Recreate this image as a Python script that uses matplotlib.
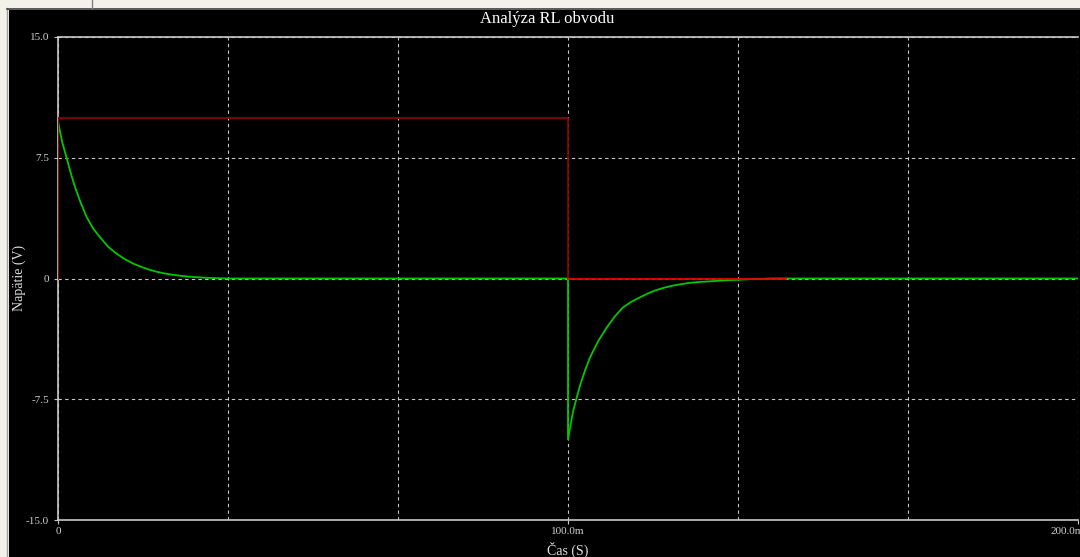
import matplotlib.pyplot as plt
from matplotlib.patches import Rectangle
from matplotlib.lines import Line2D
from matplotlib.transforms import ScaledTranslation

# Zdroj (cervena) - cas v ms, napatie vo V
t_zdroj = [0, 0, 100, 100, 142.7]
v_zdroj = [0, 10, 10, 0, 0]

# Napatie na cievke (zelena), odcitane z grafu
t_cievka = [0, 0, 0.8, 1.7, 2.5, 3.3, 4.4, 5.6, 6.9, 8.2, 9.8, 11.5, 13.1, 14.8,
            16.4, 18.0, 19.6, 21.3, 23.2, 25.2, 27.2, 29.2, 31.3, 33.5,
            100, 100, 100.5, 101.0, 101.7, 102.4, 103.3, 104.3, 105.9, 107.6,
            109.2, 110.8, 112.4, 114.1, 115.7, 117.4, 119.0, 120.6, 122.2,
            123.9, 125.5, 127.2, 129.5, 131.8, 136.0, 140.0, 200]
v_cievka = [0, 9.77, 8.5, 7.48, 6.55, 5.71, 4.75, 3.83, 3.1, 2.58, 1.98, 1.54, 1.2, 0.92,
            0.71, 0.54, 0.4, 0.29, 0.2, 0.125, 0.08, 0.04, 0.02, 0,
            0, -10.0, -9.1, -8.25, -7.4, -6.6, -5.75, -4.92, -3.9, -3.04,
            -2.35, -1.79, -1.45, -1.17, -0.92, -0.71, -0.56, -0.44, -0.35,
            -0.27, -0.22, -0.19, -0.14, -0.10, -0.04, 0, 0]

y_ticks = [-15, -7.5, 0, 7.5, 15]
y_labels = ['-15.0', '-7.5', '0', '7.5', '15.0']
x_ticks = [0, 100, 200]
x_labels = ['0', '100.0m', '200.0m']

W, H = 1080, 557
fig = plt.figure(figsize=(W / 100, H / 100), dpi=100, facecolor='#f3f2ea')

# ramcek okna
fig.add_artist(Rectangle((9 / W, 0), 1, 1 - 10 / H, transform=fig.transFigure,
                         facecolor='black', edgecolor='none', zorder=-10))
fig.add_artist(Line2D([7 / W, 7 / W], [0, 1 - 8 / H], transform=fig.transFigure,
                      color='#a0a0a0', lw=1, zorder=-5))
fig.add_artist(Line2D([7 / W, 1], [1 - 9 / H, 1 - 9 / H], transform=fig.transFigure,
                      color='#404040', lw=1.2, zorder=-5))
fig.add_artist(Line2D([92 / W, 92 / W], [1 - 8 / H, 1], transform=fig.transFigure,
                      color='#808080', lw=1, zorder=-5))

ax = fig.add_axes([58 / W, 1 - 520 / H, 1020 / W, 483 / H])
ax.set_zorder(5)
ax.set_facecolor('black')
ax.set_axisbelow(True)

ax.plot(t_cievka, v_cievka, color='#00c800', lw=1.3, zorder=3)
ax.plot(t_zdroj[:4], v_zdroj[:4], color='#8b0000', lw=1.3, zorder=4)
ax.plot(t_zdroj[3:], v_zdroj[3:], color='#e80000', lw=1.3, zorder=4)

ax.set_xlim(0, 200)
ax.set_ylim(-15, 15)

ax.set_xticks(x_ticks)
ax.set_xticklabels(x_labels)
ax.set_xticks([200 / 6 * i for i in range(1, 6)], minor=True)
ax.set_yticks(y_ticks)
ax.set_yticklabels(y_labels)

serif = 'Liberation Serif'
ax.tick_params(axis='both', colors='#c8c8c8', labelsize=8, length=3, width=0.8,
               labelcolor='#d0d0d0')
ax.tick_params(axis='x', which='minor', length=0)
ax.tick_params(axis='x', pad=2)
for lab in ax.get_xticklabels() + ax.get_yticklabels():
    lab.set_fontfamily(serif)
# posledny popisok je posunuty dolava ako v originale
last = ax.get_xticklabels()[-1]
last.set_transform(last.get_transform() + ScaledTranslation(-11 / 100, 0, fig.dpi_scale_trans))

ax.grid(True, axis='x', which='both', color='#c8c8c8', linestyle=(0, (3, 3)), lw=0.8)
ax.grid(True, axis='y', which='major', color='#c8c8c8', linestyle=(0, (3, 3)), lw=0.8)

for s in ['left', 'bottom', 'top']:
    ax.spines[s].set_color('#c8c8c8')
    ax.spines[s].set_linewidth(1.2)
ax.spines['right'].set_visible(False)

ax.set_xlabel('Čas (S)', color='#e0e0e0', fontsize=10, fontfamily=serif, labelpad=4)
fig.text(19 / W, 1 - 278 / H, 'Napätie (V)', color='#e0e0e0', fontsize=10,
         fontfamily=serif, rotation=90, ha='center', va='center')
fig.text(547 / W, 1 - 19 / H, 'Analýza RL obvodu', color='white', fontsize=12,
         fontfamily=serif, ha='center', va='center')

fig.savefig('out.png', dpi=100, facecolor=fig.get_facecolor())
